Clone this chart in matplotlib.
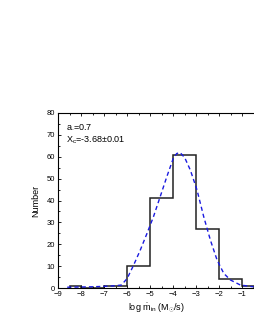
import matplotlib
matplotlib.use("Agg")
import matplotlib.pyplot as plt
from matplotlib.ticker import MultipleLocator

plt.rcParams['font.family'] = ['Liberation Sans', 'DejaVu Sans']
plt.rcParams['mathtext.fontset'] = 'custom'
plt.rcParams['mathtext.rm'] = 'Liberation Sans'
plt.rcParams['mathtext.it'] = 'Liberation Sans:italic'

# histogram bin edges and counts
bin_edges = [-8.5, -8.0, -7.0, -6.0, -5.0, -4.0, -3.0, -2.0, -1.0, -0.5]
counts = [1, 0, 1, 10, 41, 61, 27, 4, 1]

# fitted curve
fit_x = [-8.6, -8.0, -7.5, -7.0, -6.5, -6.25, -6.0, -5.72, -5.43, -5.14, -4.86, -4.57,
         -4.28, -4.0, -3.85, -3.7, -3.5, -3.26, -2.97, -2.68, -2.39, -2.1, -1.81,
         -1.52, -1.09, -0.52]
fit_y = [0.4, 0.5, 0.6, 0.8, 1.1, 1.4, 4.4, 10.5, 17.4, 25.0, 32.6, 41.7,
         50.9, 59.3, 61.5, 61.9, 59.5, 53.9, 44.8, 32.6, 21.9, 12.8, 6.7,
         3.7, 1.4, 0.6]

fig = plt.figure(figsize=(2.55, 3.30), dpi=100)
ax = fig.add_axes([0.2275, 0.127, 0.7685, 0.5306])

ax.stairs(counts, bin_edges, color='#222222', linewidth=1.1, baseline=0)
ax.plot(fit_x, fit_y, color='#1a1ae0', linestyle=(0, (3.0, 2.2)), linewidth=1.0)

ax.set_xlim(-9, -0.5)
ax.set_ylim(0, 80)
ax.xaxis.set_major_locator(MultipleLocator(1))
ax.xaxis.set_minor_locator(MultipleLocator(0.5))
ax.yaxis.set_major_locator(MultipleLocator(10))
ax.yaxis.set_minor_locator(MultipleLocator(5))
ax.tick_params(which='both', direction='in', top=True, right=False, labelsize=5.5, width=0.6, pad=2)
ax.tick_params(which='major', length=2.5)
ax.tick_params(which='minor', length=1.5)
for s in ax.spines.values():
    s.set_linewidth(0.8)
ax.spines['right'].set_visible(False)

ax.set_xlabel(r'log $\dot{\rm m}_{\rm in}$ (M$_{\odot}$/s)', fontsize=6.5, labelpad=2)
ax.set_ylabel('Number', fontsize=6.5, labelpad=5)

ax.text(0.04, 0.92, r'a$_{\bullet}$=0.7', transform=ax.transAxes, fontsize=6.5, va='center')
ax.text(0.04, 0.845, r'X$_{\rm c}$=-3.68$\pm$0.01', transform=ax.transAxes, fontsize=6.5, va='center')

fig.savefig('out.png', dpi=100)
